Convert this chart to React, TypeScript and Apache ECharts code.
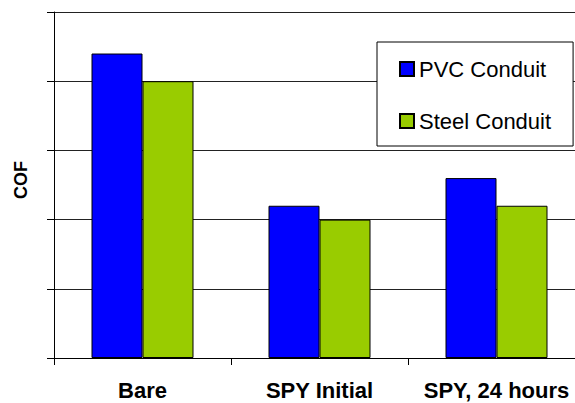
import React, { useEffect, useRef } from "react";
import * as echarts from "echarts";

const categories = ["Bare", "SPY Initial", "SPY, 24 hours"];
const pvcValues = [4.4, 2.2, 2.6];
const steelValues = [4.0, 2.0, 2.2];
const seriesNames = ["PVC Conduit", "Steel Conduit"];
const yAxisName = "COF";

const FONT = "'Liberation Sans', Arial, Helvetica, sans-serif";

export default function App() {
  const ref = useRef<HTMLDivElement>(null);
  useEffect(() => {
    if (!ref.current) return;
    const chart = echarts.init(ref.current, null, { renderer: "svg" });
    chart.setOption({
      animation: false,
      backgroundColor: "#fff",
      textStyle: { fontFamily: FONT },
      grid: {
        left: 54,
        right: -10,
        top: 12,
        bottom: 45,
        containLabel: false,
        outerBoundsMode: "none",
      },
      legend: {
        orient: "vertical",
        left: 377,
        top: 42,
        backgroundColor: "#fff",
        borderColor: "#000",
        borderWidth: 1,
        padding: [16, 22, 14, 22],
        itemGap: 30,
        itemWidth: 14,
        itemHeight: 14,
        icon: "rect",
        textStyle: { fontFamily: FONT, fontSize: 22, color: "#000", lineHeight: 22 },
        data: seriesNames,
      },
      graphic: [
        {
          type: "text",
          x: 21,
          y: 180,
          rotation: Math.PI / 2,
          style: {
            text: yAxisName,
            fill: "#000",
            font: `bold 18px ${FONT}`,
            align: "center",
            verticalAlign: "middle",
          },
        },
      ],
      xAxis: {
        type: "category",
        data: categories,
        axisLine: { show: true, lineStyle: { color: "#000", width: 1 } },
        axisTick: { show: true, length: 7, lineStyle: { color: "#000" } },
        axisLabel: {
          interval: 0,
          color: "#000",
          fontFamily: FONT,
          fontWeight: "bold",
          fontSize: 22,
          margin: 21,
        },
        splitLine: { show: false },
      },
      yAxis: {
        type: "value",
        min: 0,
        max: 5,
        interval: 1,
        axisLine: { show: true, lineStyle: { color: "#000", width: 1 } },
        axisTick: { show: true, length: 7, lineStyle: { color: "#000" } },
        axisLabel: { show: false },
        splitLine: { show: true, lineStyle: { color: "#222", width: 1 } },
      },
      series: [
        {
          name: seriesNames[0],
          type: "bar",
          data: pvcValues,
          barWidth: 51,
          barGap: "0%",
          itemStyle: { color: "#0000FF", borderColor: "#000", borderWidth: 1 },
        },
        {
          name: seriesNames[1],
          type: "bar",
          data: steelValues,
          barWidth: 51,
          barGap: "0%",
          itemStyle: { color: "#99CC00", borderColor: "#000", borderWidth: 1 },
        },
      ],
    });
    return () => chart.dispose();
  }, []);
  return (
    <div
      ref={ref}
      style={{ position: "fixed", left: 0, top: 0, width: 575, height: 403 }}
    />
  );
}
